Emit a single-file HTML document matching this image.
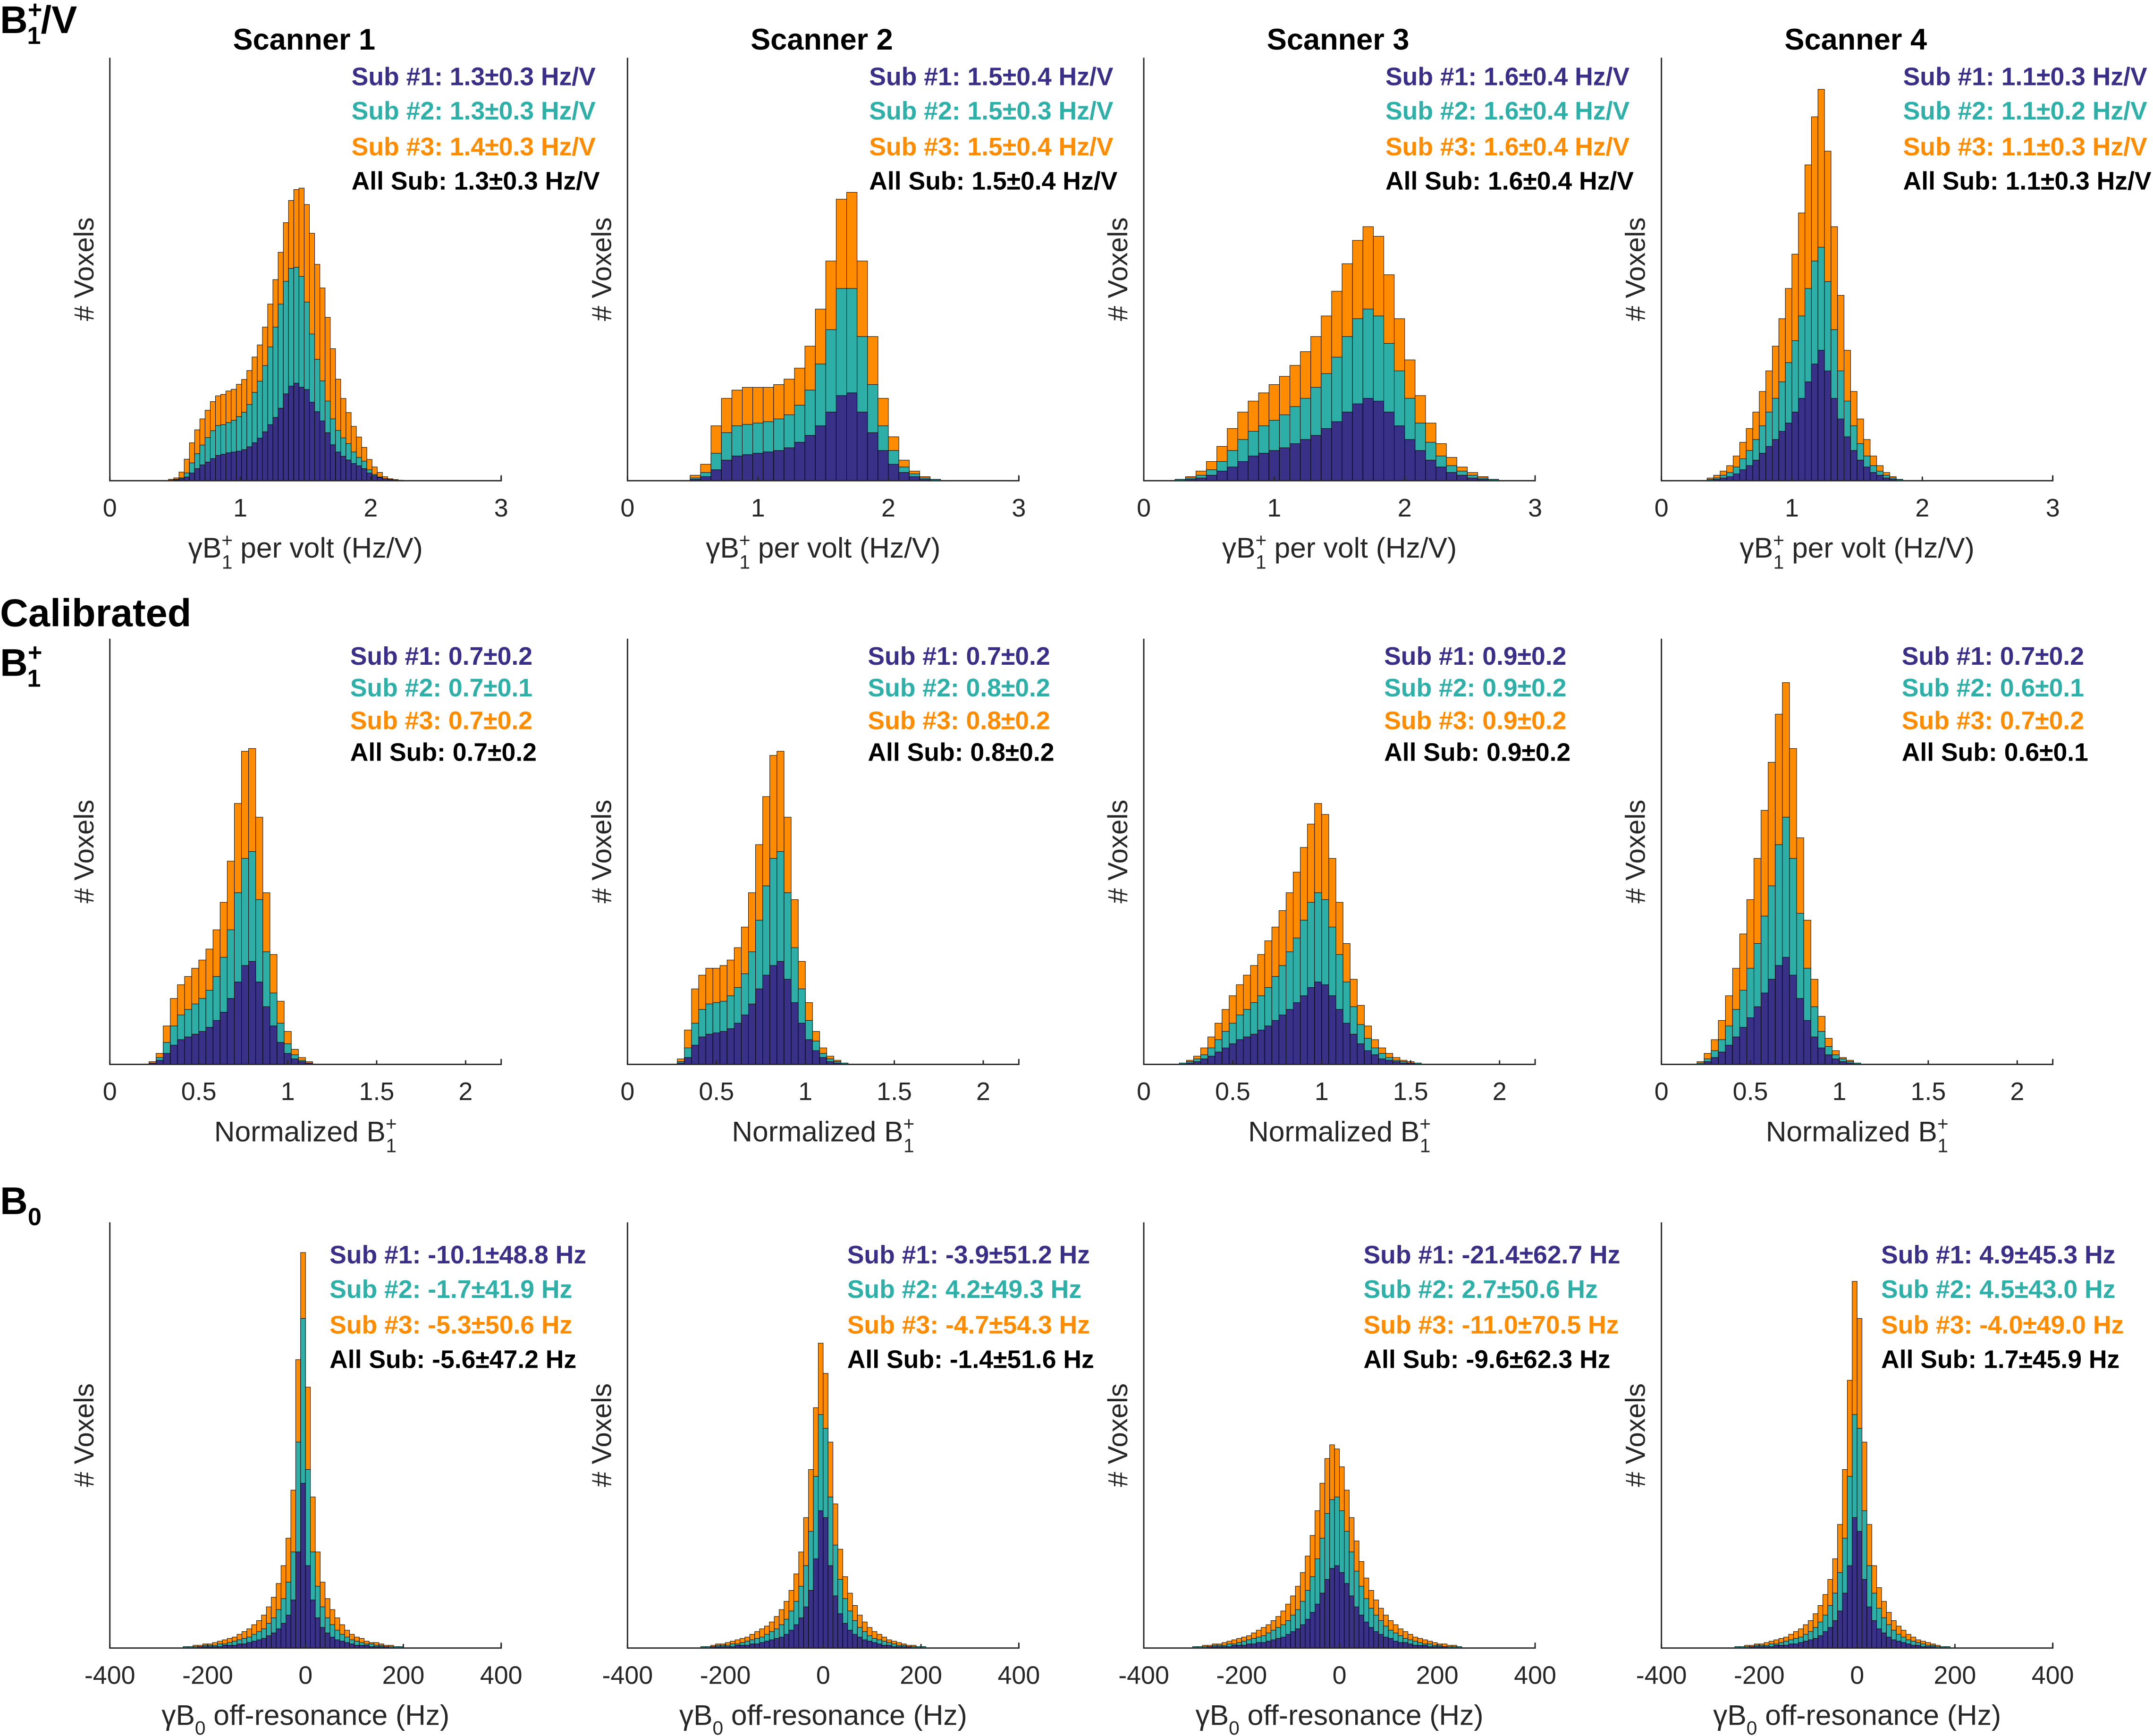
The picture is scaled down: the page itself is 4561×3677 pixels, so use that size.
<!DOCTYPE html>
<html><head><meta charset="utf-8"><style>
html,body{margin:0;padding:0;background:#fff;}
svg{display:block;}
text{font-family:"Liberation Sans",Arial,sans-serif;}
</style></head><body>
<svg id="fig" xmlns="http://www.w3.org/2000/svg" width="4561" height="3677" viewBox="0 0 1568 1264">
<rect width="1568" height="1264" fill="#fff"/>
<g font-weight="bold" fill="#000">
<text x="0" y="24" font-size="28">B<tspan font-size="18" dy="-11">+</tspan><tspan font-size="18" dx="-11" dy="19">1</tspan><tspan dy="-8">/V</tspan></text>
<text x="0" y="456" font-size="28.5">Calibrated</text>
<text x="0" y="492" font-size="28">B<tspan font-size="18" dy="-11">+</tspan><tspan font-size="18" dx="-11" dy="19">1</tspan></text>
<text x="0" y="884" font-size="28">B<tspan font-size="18" dy="8">0</tspan></text>
</g>
<g id="panels"></g>
</svg>
<script>
const scannerTitles = ["Scanner 1","Scanner 2","Scanner 3","Scanner 4"];
const row1Ticks = [0,1,2,3];
const row2Ticks = [0,0.5,1,1.5,2];
const row3Ticks = [-400,-200,0,200,400];
const row1Legend = [
 ["Sub #1: 1.3±0.3 Hz/V","Sub #2: 1.3±0.3 Hz/V","Sub #3: 1.4±0.3 Hz/V","All Sub: 1.3±0.3 Hz/V"],
 ["Sub #1: 1.5±0.4 Hz/V","Sub #2: 1.5±0.3 Hz/V","Sub #3: 1.5±0.4 Hz/V","All Sub: 1.5±0.4 Hz/V"],
 ["Sub #1: 1.6±0.4 Hz/V","Sub #2: 1.6±0.4 Hz/V","Sub #3: 1.6±0.4 Hz/V","All Sub: 1.6±0.4 Hz/V"],
 ["Sub #1: 1.1±0.3 Hz/V","Sub #2: 1.1±0.2 Hz/V","Sub #3: 1.1±0.3 Hz/V","All Sub: 1.1±0.3 Hz/V"]];
const row2Legend = [
 ["Sub #1: 0.7±0.2","Sub #2: 0.7±0.1","Sub #3: 0.7±0.2","All Sub: 0.7±0.2"],
 ["Sub #1: 0.7±0.2","Sub #2: 0.8±0.2","Sub #3: 0.8±0.2","All Sub: 0.8±0.2"],
 ["Sub #1: 0.9±0.2","Sub #2: 0.9±0.2","Sub #3: 0.9±0.2","All Sub: 0.9±0.2"],
 ["Sub #1: 0.7±0.2","Sub #2: 0.6±0.1","Sub #3: 0.7±0.2","All Sub: 0.6±0.1"]];
const row3Legend = [
 ["Sub #1: -10.1±48.8 Hz","Sub #2: -1.7±41.9 Hz","Sub #3: -5.3±50.6 Hz","All Sub: -5.6±47.2 Hz"],
 ["Sub #1: -3.9±51.2 Hz","Sub #2: 4.2±49.3 Hz","Sub #3: -4.7±54.3 Hz","All Sub: -1.4±51.6 Hz"],
 ["Sub #1: -21.4±62.7 Hz","Sub #2: 2.7±50.6 Hz","Sub #3: -11.0±70.5 Hz","All Sub: -9.6±62.3 Hz"],
 ["Sub #1: 4.9±45.3 Hz","Sub #2: 4.5±43.0 Hz","Sub #3: -4.0±49.0 Hz","All Sub: 1.7±45.9 Hz"]];

const p1Start = 0.45, p1Width = 0.04, p1YMax = 1470;
const p1Sub1 = [1,3,7,13,27,42,55,65,77,88,92,97,100,103,108,118,132,148,170,195,220,252,302,329,339,325,317,273,240,208,167,125,100,85,72,60,52,42,27,18,11,7,4,2,1];
const p1Sub12 = [2,5,10,27,62,94,124,150,174,192,195,202,210,223,238,265,307,346,400,465,534,614,693,738,742,710,621,510,422,347,277,215,175,149,129,100,81,68,38,22,13,7,4,2,1];
const p1All = [5,10,30,75,132,177,215,245,275,295,300,312,318,335,352,383,430,472,534,614,699,794,897,974,1012,1017,960,860,752,670,568,459,353,286,237,189,152,116,74,48,29,14,7,4,2];
const p2Start = 0.48, p2Width = 0.08, p2YMax = 308;
const p2Sub1 = [1,3,8,15,18,19,20,21,22,24,28,33,40,50,62,64,50,35,22,12,6,3,1,0];
const p2Sub12 = [2,6,20,35,40,41,42,43,45,48,55,66,85,110,140,140,105,70,40,22,10,5,2,1];
const p2All = [4,12,40,60,66,68,68,68,70,74,82,98,125,160,205,210,160,105,60,32,15,7,3,1];
const p3Start = 0.24, p3Width = 0.08, p3YMax = 308;
const p3Sub1 = [0,1,2,4,7,10,14,18,20,22,24,27,30,33,38,43,50,56,60,58,50,40,30,22,15,10,6,4,2,1,0];
const p3Sub12 = [1,2,4,8,14,22,30,36,40,44,48,54,60,68,78,90,105,118,125,120,100,80,60,42,28,18,11,7,4,2,1];
const p3All = [1,3,7,14,25,38,50,58,64,70,76,84,94,105,120,138,158,175,185,178,150,118,88,62,42,27,17,10,6,3,1];
const p4Start = 0.35, p4Width = 0.05, p4YMax = 308;
const p4Sub1 = [0,1,2,3,5,8,11,15,20,25,30,36,42,50,60,72,85,95,80,60,45,32,22,15,10,6,4,2,1,0];
const p4Sub12 = [1,2,4,6,10,16,22,30,40,50,60,72,86,102,120,140,160,170,145,110,80,58,40,27,18,11,7,4,2,1];
const p4All = [2,4,7,11,18,28,38,50,65,80,98,118,140,165,195,230,265,285,240,185,135,95,65,45,30,18,11,6,3,1];
const p5Start = 0.22, p5Width = 0.04, p5YMax = 310;
const p5Sub1 = [1,3,8,14,18,20,22,24,27,32,38,48,60,72,75,60,42,28,16,8,4,2,1];
const p5Sub12 = [1,5,16,28,36,40,44,48,54,64,78,98,125,150,155,120,82,52,30,15,7,3,1];
const p5All = [2,8,28,48,58,64,70,76,84,98,118,148,190,228,230,180,125,80,46,24,11,5,2];
const p6Start = 0.28, p6Width = 0.04, p6YMax = 310;
const p6Sub1 = [1,5,14,20,22,23,24,26,30,36,44,55,65,72,75,62,45,30,18,10,5,2,1,0];
const p6Sub12 = [2,12,30,40,44,45,46,50,56,66,82,105,130,150,155,125,85,55,32,17,8,4,2,1];
const p6All = [4,25,55,65,70,70,72,76,85,100,125,160,195,225,228,180,120,75,45,24,12,6,3,1];
const p7Start = 0.20, p7Width = 0.04, p7YMax = 310;
const p7Sub1 = [0,1,2,4,6,9,12,15,18,20,22,25,28,32,36,40,45,50,56,60,58,50,40,30,22,15,10,7,4,3,2,1,1,0];
const p7Sub12 = [1,2,4,7,12,18,24,30,36,40,45,50,56,64,72,82,92,105,118,125,120,100,80,60,42,29,19,12,8,5,3,2,1,1];
const p7All = [1,3,6,12,20,30,40,50,58,65,72,80,90,100,112,125,140,158,175,190,182,150,118,88,62,43,28,18,12,8,5,3,2,1];
const p8Start = 0.20, p8Width = 0.04, p8YMax = 310;
const p8Sub1 = [0,2,5,9,14,20,27,34,42,52,62,72,78,65,48,32,20,12,7,4,2,1,0];
const p8Sub12 = [1,4,10,18,28,40,54,70,88,108,130,160,180,150,110,70,42,24,13,7,4,2,1];
const p8All = [2,8,18,32,50,70,95,120,150,185,220,255,278,230,165,105,62,35,19,10,5,3,1];
const p9Start = -250, p9Width = 10, p9YMax = 310;
const p9Sub1 = [0,0,0,1,1,1,1,1,2,2,2,3,3,4,5,6,7,9,11,14,18,24,35,70,120,60,35,22,15,11,8,6,5,4,3,2,2,2,1,1,1,1,0,0,0];
const p9Sub12 = [1,1,1,1,2,2,2,3,3,4,5,6,7,8,10,12,14,18,22,28,36,48,70,150,240,130,70,45,30,22,17,13,10,8,6,5,4,3,3,2,2,1,1,1,1];
const p9All = [1,1,2,2,3,3,4,5,6,7,8,10,12,14,17,20,24,30,37,47,60,80,115,210,288,190,110,70,48,36,28,22,17,13,10,8,7,5,4,4,3,2,2,1,1];
const p10Start = -250, p10Width = 10, p10YMax = 310;
const p10Sub1 = [0,0,1,1,1,1,1,2,2,2,3,3,4,5,6,7,8,10,13,17,22,30,42,65,100,95,60,38,25,18,13,10,8,6,5,4,3,2,2,1,1,1,1,0,0,0];
const p10Sub12 = [1,1,1,2,2,2,3,3,4,5,6,7,8,10,12,14,17,21,27,34,45,60,85,125,170,160,110,75,50,36,27,20,15,12,9,7,6,5,4,3,2,2,1,1,1,1];
const p10All = [1,1,2,3,3,4,5,6,7,8,10,12,14,16,19,23,28,34,42,54,70,95,130,175,222,200,150,105,72,52,40,31,24,19,15,12,10,8,6,5,4,3,2,2,1,1];
const p11Start = -300, p11Width = 10, p11YMax = 310;
const p11Sub1 = [0,0,0,1,1,1,1,1,2,2,2,3,3,4,4,5,6,7,8,10,12,14,17,21,26,32,40,50,58,60,55,47,38,30,24,19,15,12,10,8,7,5,4,4,3,2,2,2,1,1,1,1,0,0,0];
const p11Sub12 = [1,1,1,1,2,2,2,3,3,4,5,6,7,8,9,11,13,15,17,20,24,28,34,42,52,65,80,98,108,110,100,85,70,56,45,36,29,24,20,16,13,11,9,7,6,5,4,3,3,2,2,1,1,1,1];
const p11All = [1,1,2,2,3,3,4,5,6,7,8,9,11,13,15,17,20,23,27,32,38,45,55,67,82,100,120,138,148,145,132,115,95,78,63,51,42,35,29,24,20,17,14,12,10,8,7,6,5,4,3,3,2,2,1];
const p12Start = -250, p12Width = 10, p12YMax = 310;
const p12Sub1 = [0,0,0,1,1,1,1,1,2,2,2,3,3,4,5,6,7,9,12,15,20,27,40,60,95,85,50,30,20,14,11,8,6,5,4,3,2,2,1,1,1,0,0,0];
const p12Sub12 = [1,1,1,1,2,2,2,3,3,4,5,6,7,8,10,12,15,19,24,31,40,55,80,125,170,160,100,60,40,29,22,17,13,10,8,6,5,4,3,2,2,1,1,1];
const p12All = [1,1,2,2,3,3,4,5,6,7,8,10,12,14,17,20,25,31,39,50,65,90,130,195,267,240,150,90,60,44,34,26,20,16,13,10,8,6,5,4,3,2,1,1];

const panels = [
 {start:p1Start,w:p1Width,yMax:p1YMax,s1:p1Sub1,s12:p1Sub12,all:p1All},
 {start:p2Start,w:p2Width,yMax:p2YMax,s1:p2Sub1,s12:p2Sub12,all:p2All},
 {start:p3Start,w:p3Width,yMax:p3YMax,s1:p3Sub1,s12:p3Sub12,all:p3All},
 {start:p4Start,w:p4Width,yMax:p4YMax,s1:p4Sub1,s12:p4Sub12,all:p4All},
 {start:p5Start,w:p5Width,yMax:p5YMax,s1:p5Sub1,s12:p5Sub12,all:p5All},
 {start:p6Start,w:p6Width,yMax:p6YMax,s1:p6Sub1,s12:p6Sub12,all:p6All},
 {start:p7Start,w:p7Width,yMax:p7YMax,s1:p7Sub1,s12:p7Sub12,all:p7All},
 {start:p8Start,w:p8Width,yMax:p8YMax,s1:p8Sub1,s12:p8Sub12,all:p8All},
 {start:p9Start,w:p9Width,yMax:p9YMax,s1:p9Sub1,s12:p9Sub12,all:p9All},
 {start:p10Start,w:p10Width,yMax:p10YMax,s1:p10Sub1,s12:p10Sub12,all:p10All},
 {start:p11Start,w:p11Width,yMax:p11YMax,s1:p11Sub1,s12:p11Sub12,all:p11All},
 {start:p12Start,w:p12Width,yMax:p12YMax,s1:p12Sub1,s12:p12Sub12,all:p12All}];

const NS = "http://www.w3.org/2000/svg";
const root = document.getElementById('panels');
function mk(tag, attrs, parent){const e=document.createElementNS(NS,tag);for(const k in attrs)e.setAttribute(k,attrs[k]);parent.appendChild(e);return e;}
const colX = [80,457,833,1210];
const rows = [
 {top:42,base:350,xmin:0,xmax:3,ticks:row1Ticks,legend:row1Legend,legY:56,legDx:176,xlab:'b1v'},
 {top:465,base:775,xmin:0,xmax:2.2,ticks:row2Ticks,legend:row2Legend,legY:478,legDx:175,xlab:'norm'},
 {top:890,base:1200,xmin:-400,xmax:400,ticks:row3Ticks,legend:row3Legend,legY:914,legDx:160,xlab:'b0'}];
const legendColors = ["#3a2f88","#2eafa8","#ff8c00","#000"];
const legendGaps = [[0,25,51,76],[0,23,47,70],[0,25,51,76]];
const fill = ["#393087","#2dafa7","#ff8c00"];
const W = 285;

rows.forEach((r,ri)=>{
 colX.forEach((x0,ci)=>{
  const p = panels[ri*4+ci];
  const g = mk('g',{},root);
  
  
  const xs = v => x0 + (v - r.xmin)/(r.xmax - r.xmin)*W;
  const ys = v => r.base - v/p.yMax*(r.base - r.top);
  const layers = [p.s1, p.s12, p.all];
  for(let i=0;i<p.all.length;i++){
   const bx = xs(p.start + i*p.w), bw = xs(p.start+(i+1)*p.w)-bx;
   for(let L=2;L>=0;L--){
    const v = layers[L][i]; if(!v) continue;
    const rc = mk('rect',{x:bx,y:ys(v),width:bw,height:r.base-ys(v),fill:fill[L],stroke:'#000','stroke-width':0.35},g);
    
    
   }
  }
  const ax = mk('path',{d:`M${x0} ${r.top}V${r.base}H${x0+W}V${r.base-4}`,fill:'none',stroke:'#262626','stroke-width':1},g);
  
  
  r.ticks.forEach(t=>{
   const tx = xs(t);
   const tm = mk('line',{x1:tx,x2:tx,y1:r.base,y2:r.base-3,stroke:'#262626','stroke-width':1},g);
   
   
   const tl = mk('text',{x:tx,y:r.base+26,'text-anchor':'middle','font-size':18.5,fill:'#262626'},g);
   tl.textContent = String(t);
   
   
  });
  const yl = mk('text',{x:0,y:0,transform:`translate(${x0-12},${(r.top+r.base)/2}) rotate(-90)`,'text-anchor':'middle','font-size':20,fill:'#262626'},g);
  yl.textContent = '# Voxels';
  
  
  const xl = mk('text',{x:x0+W/2,y:r.base+56,'text-anchor':'middle','font-size':20.8,fill:'#262626'},g);
  
  
  if(r.xlab==='b1v') xl.innerHTML = 'γB<tspan font-size="14" dy="-8">+</tspan><tspan font-size="14" dx="-8" dy="16">1</tspan><tspan dy="-8"> per volt (Hz/V)</tspan>';
  else if(r.xlab==='norm') xl.innerHTML = 'Normalized B<tspan font-size="14" dy="-8">+</tspan><tspan font-size="14" dx="-8" dy="16">1</tspan>';
  else xl.innerHTML = 'γB<tspan font-size="14" dy="7">0</tspan><tspan dy="-7"> off-resonance (Hz)</tspan>';
  if(ri===0){
   const tt = mk('text',{x:x0+W/2-1,y:36,'text-anchor':'middle','font-size':21.7,'font-weight':'bold',fill:'#000'},g);
   tt.textContent = scannerTitles[ci];
   
   
  }
  r.legend[ci].forEach((s,li)=>{
   const lt = mk('text',{x:x0+r.legDx,y:r.legY+legendGaps[ri][li]+6,'font-size':18.4,'font-weight':'bold',fill:legendColors[li]},g);
   lt.textContent = s;
   
   
  });
 });
});
</script>
</body></html>
